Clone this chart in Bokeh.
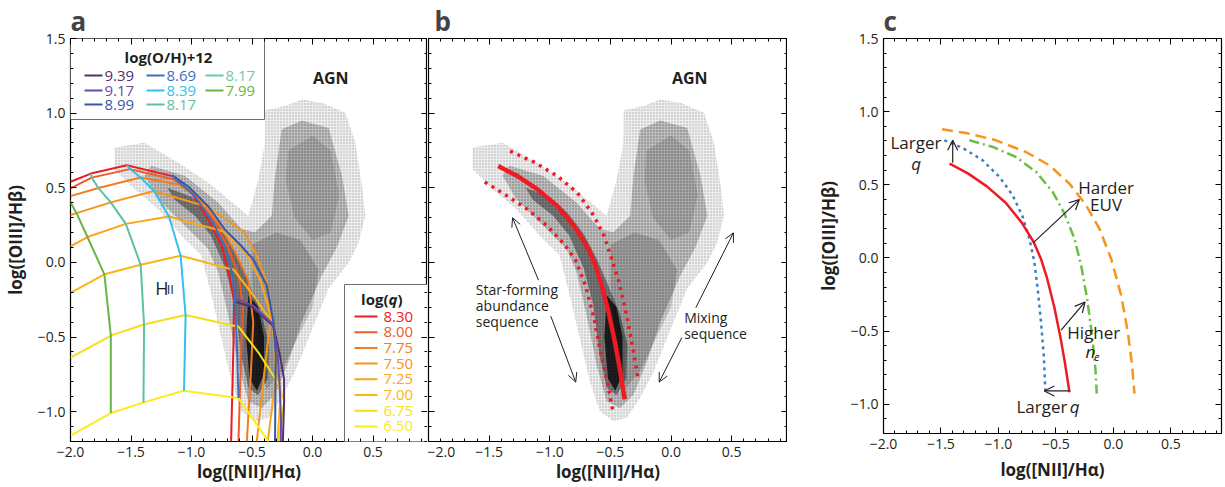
import numpy as np
from bokeh.plotting import figure
from bokeh.layouts import row
from bokeh.models import (Range1d, LinearAxis, FixedTicker, CustomJSTickFormatter,
                          Arrow, OpenHead)
from bokeh.core.properties import value
from bokeh.embed import file_html
from bokeh.resources import INLINE

FONT = value("Open Sans")

# ------------------------------------------------------------------ data
# metallicity tracks (log(O/H)+12) of the photoionisation grid, panel a
metal_labels = ["9.39", "9.17", "8.99", "8.69", "8.39", "8.17", "8.17", "7.99"]
metal_colors = ["#55306f", "#6a4fa0", "#3a57a7", "#3d6fba", "#35bfec", "#5cc2a2", "#6fcaa8", "#69b545"]
metal_x = [
    [-0.648, -0.50, -0.323, -0.27, -0.235, -0.235, -0.245],
    [-0.640, -0.49, -0.330, -0.29, -0.270, -0.260, -0.262],
    [-1.161, -1.024, -0.859, -0.722, -0.60, -0.488, -0.378, -0.323, -0.304, -0.31],
    [-1.159, -0.98, -0.83, -0.72, -0.66, -0.64, -0.625, -0.612],
    [-1.535, -1.502, -1.42, -1.31, -1.186, -1.09, -1.049, -1.062],
    [-1.832, -1.825, -1.769, -1.667, -1.543, -1.42, -1.392, -1.397],
    [],
    [-2.02, -1.95, -1.86, -1.72, -1.667, -1.667],
]
metal_y = [
    [-0.26, -0.30, -0.427, -0.62, -0.78, -0.93, -1.2],
    [-0.24, -0.29, -0.41, -0.60, -0.85, -1.05, -1.2],
    [0.585, 0.507, 0.373, 0.218, 0.12, 0.018, -0.155, -0.404, -0.627, -1.2],
    [0.578, 0.45, 0.28, 0.10, -0.09, -0.26, -0.55, -0.909],
    [0.651, 0.622, 0.569, 0.478, 0.307, 0.045, -0.355, -0.86],
    [0.595, 0.568, 0.498, 0.402, 0.258, -0.016, -0.422, -0.938],
    [],
    [0.43, 0.33, 0.17, -0.08, -0.489, -1.009],
]

# ionisation-parameter tracks (log q), panel a
q_labels = ["8.30", "8.00", "7.75", "7.50", "7.25", "7.00", "6.75", "6.50"]
q_colors = ["#ed1c24", "#f15a29", "#f47b20", "#f7941d", "#faa61a", "#fbb616", "#f6df19", "#fcec1c"]
q_x = [
    [-2.0, -1.832, -1.535, -1.159, -0.997, -0.859, -0.749, -0.69, -0.648, -0.653, -0.673],
    [-2.0, -1.825, -1.51, -1.145, -0.975, -0.81, -0.70, -0.61, -0.575, -0.59, -0.612],
    [-2.0, -1.769, -1.42, -1.10, -0.93, -0.77, -0.64, -0.53, -0.49, -0.51, -0.543],
    [-2.0, -1.95, -1.667, -1.31, -0.87, -0.568, -0.458, -0.376, -0.35, -0.40, -0.461],
    [-2.0, -1.86, -1.543, -1.186, -0.733, -0.55, -0.43, -0.33, -0.30, -0.37],
    [-2.0, -1.72, -1.42, -1.09, -0.653, -0.49, -0.323, -0.29, -0.265, -0.29],
    [-2.0, -1.656, -1.395, -1.052, -0.612, -0.447, -0.296, -0.233, -0.282],
    [-2.0, -1.67, -1.395, -1.065, -0.612, -0.364],
]
q_y = [
    [0.54, 0.595, 0.651, 0.578, 0.462, 0.285, 0.107, -0.08, -0.26, -0.538, -1.2],
    [0.496, 0.568, 0.625, 0.555, 0.45, 0.27, 0.10, -0.09, -0.30, -0.60, -1.2],
    [0.444, 0.498, 0.569, 0.52, 0.42, 0.25, 0.07, -0.12, -0.40, -0.75, -1.2],
    [0.318, 0.33, 0.402, 0.478, 0.373, 0.207, 0.04, -0.138, -0.40, -0.75, -1.2],
    [0.107, 0.17, 0.258, 0.307, 0.207, 0.06, -0.12, -0.40, -0.75, -1.2],
    [-0.204, -0.08, -0.016, 0.045, -0.049, -0.22, -0.416, -0.65, -0.90, -1.2],
    [-0.638, -0.487, -0.416, -0.353, -0.431, -0.604, -0.793, -0.927, -1.2],
    [-1.16, -1.011, -0.938, -0.86, -0.909, -1.2],
]

# galaxy density (SDSS) read as nested outlines, light -> dark
cloud_alpha = [0.07, 0.20, 0.16, 0.12, 0.38, 0.75]
cloud_hatch_alpha = [0.45, 0.35, 0.0, 0.0, 0.0, 0.0]
cloud_x = [
    [-1.637, -1.389, -1.112, -0.863, -0.697, -0.531, -0.45, -0.393, -0.39, -0.227, -0.089, 0.077, 0.271,
     0.354, 0.409, 0.437, 0.38, 0.30, 0.133, -0.033, -0.144, -0.255, -0.365, -0.476, -0.587, -0.670,
     -0.753, -0.836, -0.919, -1.085, -1.278, -1.471, -1.637],
    [-1.334, -1.056, -0.78, -0.587, -0.476, -0.337, -0.31, -0.255, -0.089, 0.133, 0.243, 0.299, 0.2,
     0.077, -0.089, -0.199, -0.31, -0.421, -0.531, -0.614, -0.697, -0.78, -0.863, -1.056, -1.278, -1.389],
    [-0.5, -0.3, -0.1, 0.05, 0.0, -0.12, -0.25, -0.38, -0.45, -0.5],
    [-0.2, 0.0, 0.15, 0.22, 0.15, 0.0, -0.15, -0.22],
    [-1.2, -1.0, -0.85, -0.72, -0.61, -0.52, -0.42, -0.36, -0.37, -0.45, -0.53, -0.59, -0.64, -0.72,
     -0.84, -0.97, -1.14],
    [-0.53, -0.45, -0.40, -0.40, -0.46, -0.52, -0.55],
]
cloud_y = [
    [0.769, 0.802, 0.669, 0.535, 0.424, 0.313, 0.55, 0.80, 1.02, 1.047, 1.091, 1.069, 1.002,
     0.802, 0.513, 0.313, 0.13, 0.0, -0.175, -0.509, -0.731, -0.909, -1.042, -1.064, -0.998, -0.798,
     -0.509, -0.22, 0.047, 0.18, 0.358, 0.491, 0.624],
    [0.647, 0.58, 0.402, 0.224, 0.202, 0.313, 0.58, 0.891, 0.95, 0.90, 0.58, 0.313, 0.1,
     -0.087, -0.398, -0.665, -0.887, -0.976, -0.931, -0.687, -0.353, -0.064, 0.091, 0.247, 0.424, 0.58],
    [0.12, 0.2, 0.15, -0.05, -0.3, -0.5, -0.72, -0.85, -0.5, -0.15],
    [0.75, 0.85, 0.75, 0.45, 0.2, 0.15, 0.3, 0.55],
    [0.50, 0.44, 0.33, 0.19, 0.02, -0.15, -0.35, -0.55, -0.78, -0.89, -0.84, -0.62, -0.29, -0.04,
     0.18, 0.31, 0.42],
    [-0.22, -0.30, -0.50, -0.75, -0.86, -0.78, -0.50],
]

# star-forming abundance sequence (panels b, c) and its scatter envelope
sf_x = [-1.425, -1.266, -1.101, -0.937, -0.799, -0.694, -0.631, -0.578, -0.514, -0.462, -0.422, -0.382]
sf_y = [0.645, 0.578, 0.489, 0.377, 0.243, 0.109, -0.005, -0.137, -0.337, -0.538, -0.717, -0.918]
sf_hi_x = [-1.327, -1.129, -0.937, -0.772, -0.634, -0.552, -0.497, -0.428, -0.365, -0.318, -0.271]
sf_hi_y = [0.745, 0.672, 0.578, 0.466, 0.31, 0.176, 0.042, -0.137, -0.36, -0.561, -0.784]
sf_lo_x = [-1.536, -1.349, -1.184, -1.019, -0.881, -0.79, -0.703, -0.634, -0.58, -0.524, -0.483]
sf_lo_y = [0.538, 0.444, 0.355, 0.243, 0.121, 0.02, -0.159, -0.382, -0.605, -0.806, -0.985]

# panel c model tracks
bq_x = [-1.471, -1.311, -1.137, -0.992, -0.876, -0.789, -0.731, -0.688, -0.659, -0.63, -0.606, -0.592]
bq_y = [0.804, 0.752, 0.667, 0.554, 0.428, 0.28, 0.132, -0.027, -0.21, -0.437, -0.665, -0.916]
ne_x = [-1.253, -1.05, -0.847, -0.673, -0.528, -0.426, -0.339, -0.281, -0.229, -0.186, -0.157, -0.145]
ne_y = [0.804, 0.759, 0.69, 0.588, 0.451, 0.303, 0.132, -0.05, -0.278, -0.528, -0.756, -0.927]
euv_x = [-1.491, -1.282, -1.021, -0.76, -0.557, -0.383, -0.238, -0.122, -0.02, 0.067, 0.125, 0.162, 0.183]
euv_y = [0.879, 0.854, 0.804, 0.724, 0.633, 0.508, 0.36, 0.2, -0.005, -0.255, -0.506, -0.733, -0.927]

# arrows: (x_start, y_start, x_end, y_end)
arrows_b = [(-1.093, -0.119, -1.307, 0.299), (-0.992, -0.36, -0.786, -0.802),
            (0.204, -0.304, 0.514, 0.198), (0.088, -0.505, -0.098, -0.802)]
arrows_c = [(-1.398, 0.651, -1.398, 0.804), (-0.696, 0.105, -0.296, 0.399),
            (-0.455, -0.494, -0.247, -0.301), (-0.383, -0.909, -0.601, -0.909)]

major = [-2.0, -1.5, -1.0, -0.5, 0.0, 0.5, 1.0, 1.5]
minor = [round(v, 2) for v in np.arange(-2.0, 1.51, 0.1)]

fmt = CustomJSTickFormatter(code="return tick.toFixed(1).replace('-', '\u2212');")
blank = CustomJSTickFormatter(code="return '';")


def make_fig(fw, fh, xmax, ml, mr, mt, mb, letter, ylabels=True, xstand=0):
    p = figure(frame_width=fw, frame_height=fh, x_range=Range1d(-2.0, xmax), y_range=Range1d(-1.2, 1.5),
               min_border_left=ml, min_border_right=mr, min_border_top=mt, min_border_bottom=mb,
               output_backend="svg", toolbar_location=None, x_axis_location=None, y_axis_location=None)
    p.grid.visible = False
    p.outline_line_color = "black"
    p.outline_line_width = 1.2
    p.background_fill_color = "white"
    p.border_fill_color = "white"
    for loc in ["below", "left", "above", "right"]:
        hidden = loc in ("above", "right") or (loc == "left" and not ylabels)
        ax = LinearAxis(ticker=FixedTicker(ticks=major, minor_ticks=minor),
                        formatter=blank if hidden else fmt)
        ax.major_tick_in = 6
        ax.major_tick_out = 0
        ax.minor_tick_in = 3
        ax.minor_tick_out = 0
        ax.major_tick_line_color = "black"
        ax.minor_tick_line_color = "black"
        ax.axis_line_color = None
        ax.major_label_text_font = "Open Sans"
        ax.major_label_text_font_size = "14px"
        ax.major_label_text_color = "#231f20"
        ax.major_label_standoff = 5
        if hidden:
            ax.major_label_standoff = 0
        if loc == "below":
            ax.axis_label = "log([NII]/H\u03b1)"
            ax.axis_label_standoff = xstand
        if loc == "left" and ylabels:
            ax.axis_label = "log([OIII]/H\u03b2)"
            ax.axis_label_standoff = 8
        ax.axis_label_text_font = "Open Sans"
        ax.axis_label_text_font_style = "bold"
        ax.axis_label_text_font_size = "17px"
        ax.axis_label_text_color = "#231f20"
        p.add_layout(ax, loc)
    p.title.text = letter
    p.title.text_font = "Open Sans"
    p.title.text_font_size = "26px"
    p.title.text_font_style = "bold"
    p.title.standoff = 0
    p.title.align = "left"
    return p


def draw_cloud(p):
    p.patches(xs=cloud_x, ys=cloud_y, fill_color="black", fill_alpha=cloud_alpha, line_color=None,
              hatch_pattern="dot", hatch_color="#555555", hatch_alpha=cloud_hatch_alpha,
              hatch_scale=3, hatch_weight=1.2)


def txt(p, x, y, s, size="13px", align="left", style="normal", color="#231f20", baseline="middle"):
    p.text(x=[x], y=[y], text=[s], text_font=FONT, text_font_size=size, text_align=align,
           text_baseline=baseline, text_font_style=style, text_color=color)


# ------------------------------------------------------------------ panel a
pa = make_fig(357, 403, 0.95, 68, 0, 33, 51, "a")
draw_cloud(pa)
for xs, ys, c in zip(q_x, q_y, q_colors):
    pa.line(xs, ys, line_color=c, line_width=2)
for xs, ys, c in zip(metal_x, metal_y, metal_colors):
    if xs:
        pa.line(xs, ys, line_color=c, line_width=2)

AX = lambda px: -2.0 + (px - 68) * 2.95 / 357
AY = lambda py: 1.5 - (py - 33) * 2.7 / 403

# metallicity legend
pa.quad(left=[AX(68)], right=[AX(262)], top=[AY(33)], bottom=[AY(114)], fill_color="white",
        line_color="#6d6e71", line_width=1)
txt(pa, AX(166), AY(51), "log(O/H)+12", size="15px", align="center", style="bold")
cols = [82, 144, 203]
rows_ = [70, 85, 99]
for i, (lab, c) in enumerate(zip(metal_labels, metal_colors)):
    cx = cols[i // 3]
    ry = rows_[i % 3]
    pa.segment(x0=[AX(cx)], y0=[AY(ry)], x1=[AX(cx + 18)], y1=[AY(ry)], line_color=c, line_width=2)
    txt(pa, AX(cx + 20), AY(ry), lab, size="15px", color=c)

# q legend
pa.quad(left=[AX(342)], right=[AX(428)], top=[AY(279)], bottom=[AY(438)], fill_color="white",
        line_color="#6d6e71", line_width=1)
txt(pa, AX(386), AY(293), "log(", size="15px", align="right", style="bold")
txt(pa, AX(386), AY(293), "q", size="15px", align="left", style="bold italic")
txt(pa, AX(395), AY(293), ")", size="15px", align="left", style="bold")
for i, (lab, c) in enumerate(zip(q_labels, q_colors)):
    ry = 311 + i * 15.7
    pa.segment(x0=[AX(352)], y0=[AY(ry)], x1=[AX(375)], y1=[AY(ry)], line_color=c, line_width=2)
    txt(pa, AX(381), AY(ry), lab, size="15px", color=c)

txt(pa, 0.151, 1.237, "AGN", size="16px", align="center", style="bold")
txt(pa, -1.30, -0.171, "H", size="18px", align="left")
txt(pa, -1.205, -0.178, "II", size="13px", align="left")

# ------------------------------------------------------------------ panel b
pb = make_fig(359, 403, 0.96, 1, 0, 33, 51, "b", ylabels=False)
draw_cloud(pb)
pb.line(sf_hi_x, sf_hi_y, line_color="#ed1c24", line_width=3.5, line_dash="3 5")
pb.line(sf_lo_x, sf_lo_y, line_color="#ed1c24", line_width=3.5, line_dash="3 5")
pb.line(sf_x, sf_y, line_color="#ed1c24", line_width=4.5)
for (x0, y0, x1, y1) in arrows_b:
    pb.add_layout(Arrow(end=OpenHead(size=9, line_width=1, line_color="#231f20"), x_start=x0, y_start=y0,
                        x_end=x1, y_end=y1, line_width=1, line_color="#231f20"))
txt(pb, 0.154, 1.237, "AGN", size="16px", align="center", style="bold")
for s, yy in zip(["Star-forming", "abundance", "sequence"], [-0.181, -0.288, -0.393]):
    txt(pb, -1.61, yy, s, size="14px")
for s, yy in zip(["Mixing", "sequence"], [-0.371, -0.476]):
    txt(pb, 0.108, yy, s, size="14px")
pb.title.offset = 6

# ------------------------------------------------------------------ panel c
pc = make_fig(338, 395, 0.94, 96, 6, 33, 59, "c", xstand=6)
pc.line(euv_x, euv_y, line_color="#f7941d", line_width=2.5, line_dash="11 6")
pc.line(ne_x, ne_y, line_color="#6cbd45", line_width=2.5, line_dash="10 4 2 4")
pc.line(bq_x, bq_y, line_color="#3b7fc4", line_width=2.5, line_dash="3 4")
pc.line(sf_x, sf_y, line_color="#ed1c24", line_width=2.5)
for (x0, y0, x1, y1) in arrows_c:
    pc.add_layout(Arrow(end=OpenHead(size=10, line_width=1.2, line_color="#231f20"), x_start=x0, y_start=y0,
                        x_end=x1, y_end=y1, line_width=1.2, line_color="#231f20"))
txt(pc, -1.94, 0.788, "Larger", size="17px")
txt(pc, -1.717, 0.645, "q", size="17px", align="center", style="italic")
txt(pc, -0.064, 0.481, "Harder", size="17px", align="center")
txt(pc, -0.064, 0.367, "EUV", size="17px", align="center")
txt(pc, -0.171, -0.513, "Higher", size="17px", align="center")
txt(pc, -0.2, -0.638, "n", size="17px", align="center", style="italic")
txt(pc, -0.168, -0.675, "e", size="11px", align="left", style="italic")
txt(pc, -0.40, -1.014, "Larger", size="17px", align="right")
txt(pc, -0.38, -1.014, "q", size="17px", align="left", style="italic")

layout = row(pa, pb, pc)
open("out.html", "w").write(file_html(layout, INLINE))
